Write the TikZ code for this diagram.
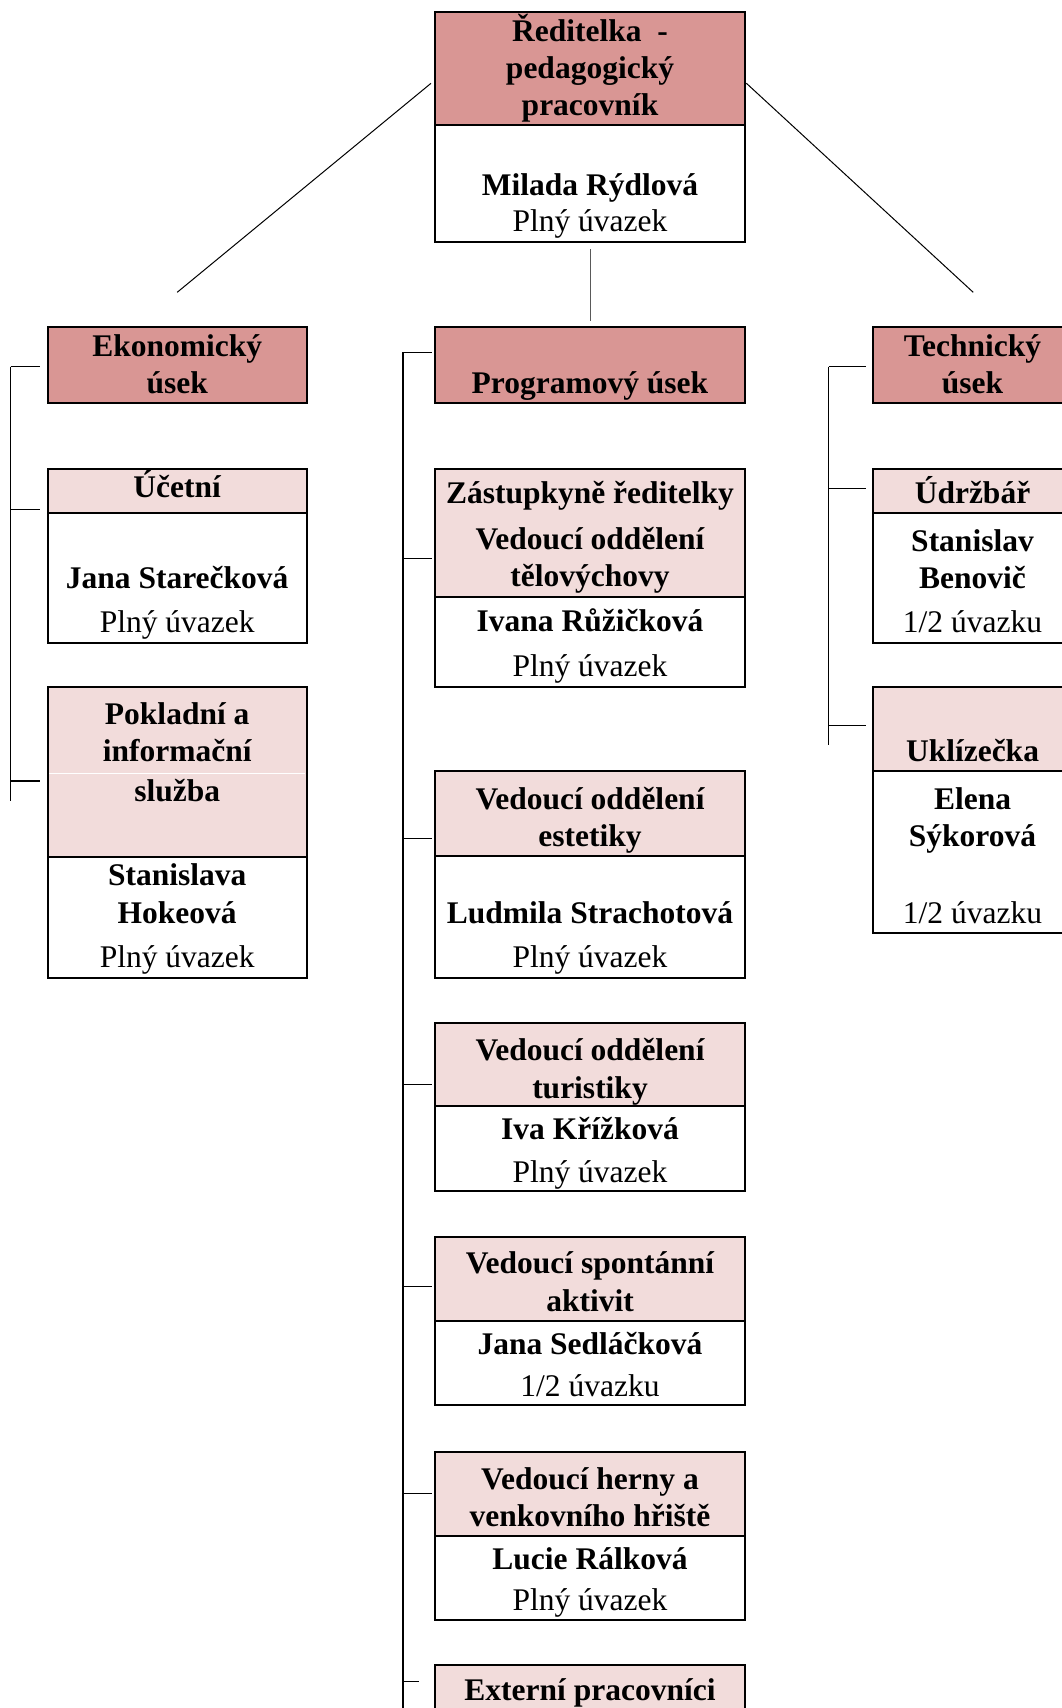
\documentclass[tikz,border=0pt]{standalone}
\usepackage{fontspec}
\setmainfont{Liberation Serif}
\usetikzlibrary{positioning}
\definecolor{darkpink}{HTML}{D99694}
\definecolor{lightpink}{HTML}{F2DCDB}
\tikzset{
  box/.style={draw, line width=2pt, inner sep=0pt, outer sep=0pt, anchor=north west},
  head/.style={box, fill=darkpink},
  sub/.style={box, fill=lightpink},
  body/.style={box, fill=white},
  txt/.style={font=\fontsize{31.5}{37}\selectfont\bfseries, align=center, anchor=base, inner sep=0pt},
  link/.style={line width=1.5pt},
  slant/.style={line width=1pt}
}
\begin{document}
\begin{tikzpicture}[x=1pt,y=-1pt]
\useasboundingbox (0,0) rectangle (1062,1708);
\clip (0,0) rectangle (1062,1708);

\node[head, minimum width=310.5pt, minimum height=113pt] (RH) at (434.8,12) {};
\node[body, minimum width=310.5pt, minimum height=117pt, anchor=north] (RB) [below=0pt of RH] {};

\node[head, minimum width=259.3pt, minimum height=76.3pt] (EK) at (47.5,326.7) {};
\node[head, minimum width=310.5pt, minimum height=76.3pt] (PR) at (434.8,326.7) {};
\node[head, minimum width=200pt, minimum height=76.3pt] (TE) at (872.5,326.7) {};

\node[sub, minimum width=259.3pt, minimum height=43.5pt] (UCh) at (47.5,469) {};
\node[body, minimum width=259.3pt, minimum height=130.5pt, anchor=north] (UCb) [below=0pt of UCh] {};
\node[sub, minimum width=259.3pt, minimum height=170pt] (PKh) at (47.5,686.5) {};
\node[body, minimum width=259.3pt, minimum height=121pt, anchor=north] (PKb) [below=0pt of PKh] {};

\node[sub, minimum width=310.5pt, minimum height=127.5pt] (ZAh) at (434.8,469) {};
\node[body, minimum width=310.5pt, minimum height=90.5pt, anchor=north] (ZAb) [below=0pt of ZAh] {};
\node[sub, minimum width=310.5pt, minimum height=85.7pt] (ESh) at (434.8,770.7) {};
\node[body, minimum width=310.5pt, minimum height=121.6pt, anchor=north] (ESb) [below=0pt of ESh] {};
\node[sub, minimum width=310.5pt, minimum height=83.1pt] (TUh) at (434.8,1023.2) {};
\node[body, minimum width=310.5pt, minimum height=84.9pt, anchor=north] (TUb) [below=0pt of TUh] {};
\node[sub, minimum width=310.5pt, minimum height=84.5pt] (SPh) at (434.8,1236.7) {};
\node[body, minimum width=310.5pt, minimum height=83.5pt, anchor=north] (SPb) [below=0pt of SPh] {};
\node[sub, minimum width=310.5pt, minimum height=84pt] (HEh) at (434.8,1452) {};
\node[body, minimum width=310.5pt, minimum height=83.5pt, anchor=north] (HEb) [below=0pt of HEh] {};
\node[sub, minimum width=310.5pt, minimum height=80pt] (EXh) at (434.8,1665) {};

\node[sub, minimum width=200pt, minimum height=43.5pt] (UDh) at (872.5,469) {};
\node[body, minimum width=200pt, minimum height=130.5pt, anchor=north] (UDb) [below=0pt of UDh] {};
\node[sub, minimum width=200pt, minimum height=84.2pt] (UKh) at (872.5,686.5) {};
\node[body, minimum width=200pt, minimum height=162.5pt, anchor=north] (UKb) [below=0pt of UKh] {};

\draw[white, line width=1pt] ([xshift=1.5pt,yshift=-87pt]PKh.north west) -- ([xshift=-1.5pt,yshift=-87pt]PKh.north east);

\node[txt] (RHt) at (590,115.7) {Ředitelka~ -\\pedagogický\\pracovník};
\node[txt] (RBt) at (590,231.1) {Milada Rýdlová\\[-1pt]{\mdseries Plný úvazek}};
\node[txt] (EKt) at (177.2,393) {Ekonomický\\úsek};
\node[txt] (PRt) at (590,393.3) {Programový úsek};
\node[txt] (TEt) at (972.5,393) {Technický\\úsek};

\node[txt] (UCt) at (177.2,497) {Účetní};
\node[txt] (UCn) at (177.2,632) {Jana Starečková\\[7pt]{\mdseries Plný úvazek}};
\node[txt] (PKt) at (177.2,801.7) {Pokladní a\\informační\\[3pt]služba};
\node[txt] (PKn) at (177.2,967.4) {Stanislava\\[1pt]Hokeová\\[6.6pt]{\mdseries Plný úvazek}};

\node[txt] (ZAt) at (590,586.7) {Zástupkyně ředitelky\\[9.7pt]Vedoucí oddělení\\tělovýchovy};
\node[txt] (ZAn) at (590,676.7) {Ivana Růžičková\\[8pt]{\mdseries Plný úvazek}};
\node[txt] (ESt) at (590,846.5) {Vedoucí oddělení\\estetiky};
\node[txt] (ESn) at (590,967.4) {Ludmila Strachotová\\[6.6pt]{\mdseries Plný úvazek}};
\node[txt] (TUt) at (590,1098) {Vedoucí oddělení\\[1pt]turistiky};
\node[txt] (TUn) at (590,1182) {Iva Křížková\\[5.5pt]{\mdseries Plný úvazek}};
\node[txt] (SPt) at (590,1311.6) {Vedoucí spontánní\\[1pt]aktivit};
\node[txt] (SPn) at (590,1396.6) {Jana Sedláčková\\[5.6pt]{\mdseries 1/2 úvazku}};
\node[txt] (HEt) at (590,1526.7) {Vedoucí herny a\\venkovního hřiště};
\node[txt] (HEn) at (590,1610) {Lucie Rálková\\[3.7pt]{\mdseries Plný úvazek}};
\node[txt] (EXt) at (590,1700) {Externí pracovníci};

\node[txt] (UDt) at (972.5,503.4) {Údržbář};
\node[txt] (UDn) at (972.5,632) {Stanislav\\Benovič\\[6.6pt]{\mdseries 1/2 úvazku}};
\node[txt] (UKt) at (972.5,761.5) {Uklízečka};
\node[txt] (UKn) at (972.5,923.8) {Elena\\Sýkorová\\[40.3pt]{\mdseries 1/2 úvazku}};

\coordinate (RHl) at (431,83.3);
\coordinate (RHr) at (746.4,83.3);
\coordinate (EKup) at (177.2,292.3);
\coordinate (TEup) at (973.2,292.3);
\coordinate (RBdn) at (590.5,249.3);
\coordinate (PRup) at (590.5,320.7);
\draw[slant] (RHl) -- (EKup);
\draw[slant] (RHr) -- (TEup);
\draw[line width=1.2pt, black!65] (RBdn) -- (PRup);

\coordinate (EKbar) at (10.5,366.7);
\coordinate (EKend) at (10.5,800.5);
\coordinate (PRbar) at (403,352.3);
\coordinate (PRend) at (403,1710);
\coordinate (TEbar) at (828.5,366.7);
\coordinate (TEend) at (828.5,745);
\draw[link] (EKbar) -- (EKend);
\draw[link] (PRbar) -- (PRend);
\draw[link] (TEbar) -- (TEend);

\foreach \y in {366.7,509.5,781}
  \draw[link] (EKbar |- 0,\y) -- (39.5,\y);
\foreach \y in {352.3,558.5,838.6,1084.5,1286.4,1493.3}
  \draw[link] (PRbar |- 0,\y) -- (431.5,\y);
\draw[link] (PRbar |- 0,1681.7) -- (419.3,1681.7);
\foreach \y in {366.7,488.6,725.4}
  \draw[link] (TEbar |- 0,\y) -- (866,\y);
\end{tikzpicture}
\end{document}
